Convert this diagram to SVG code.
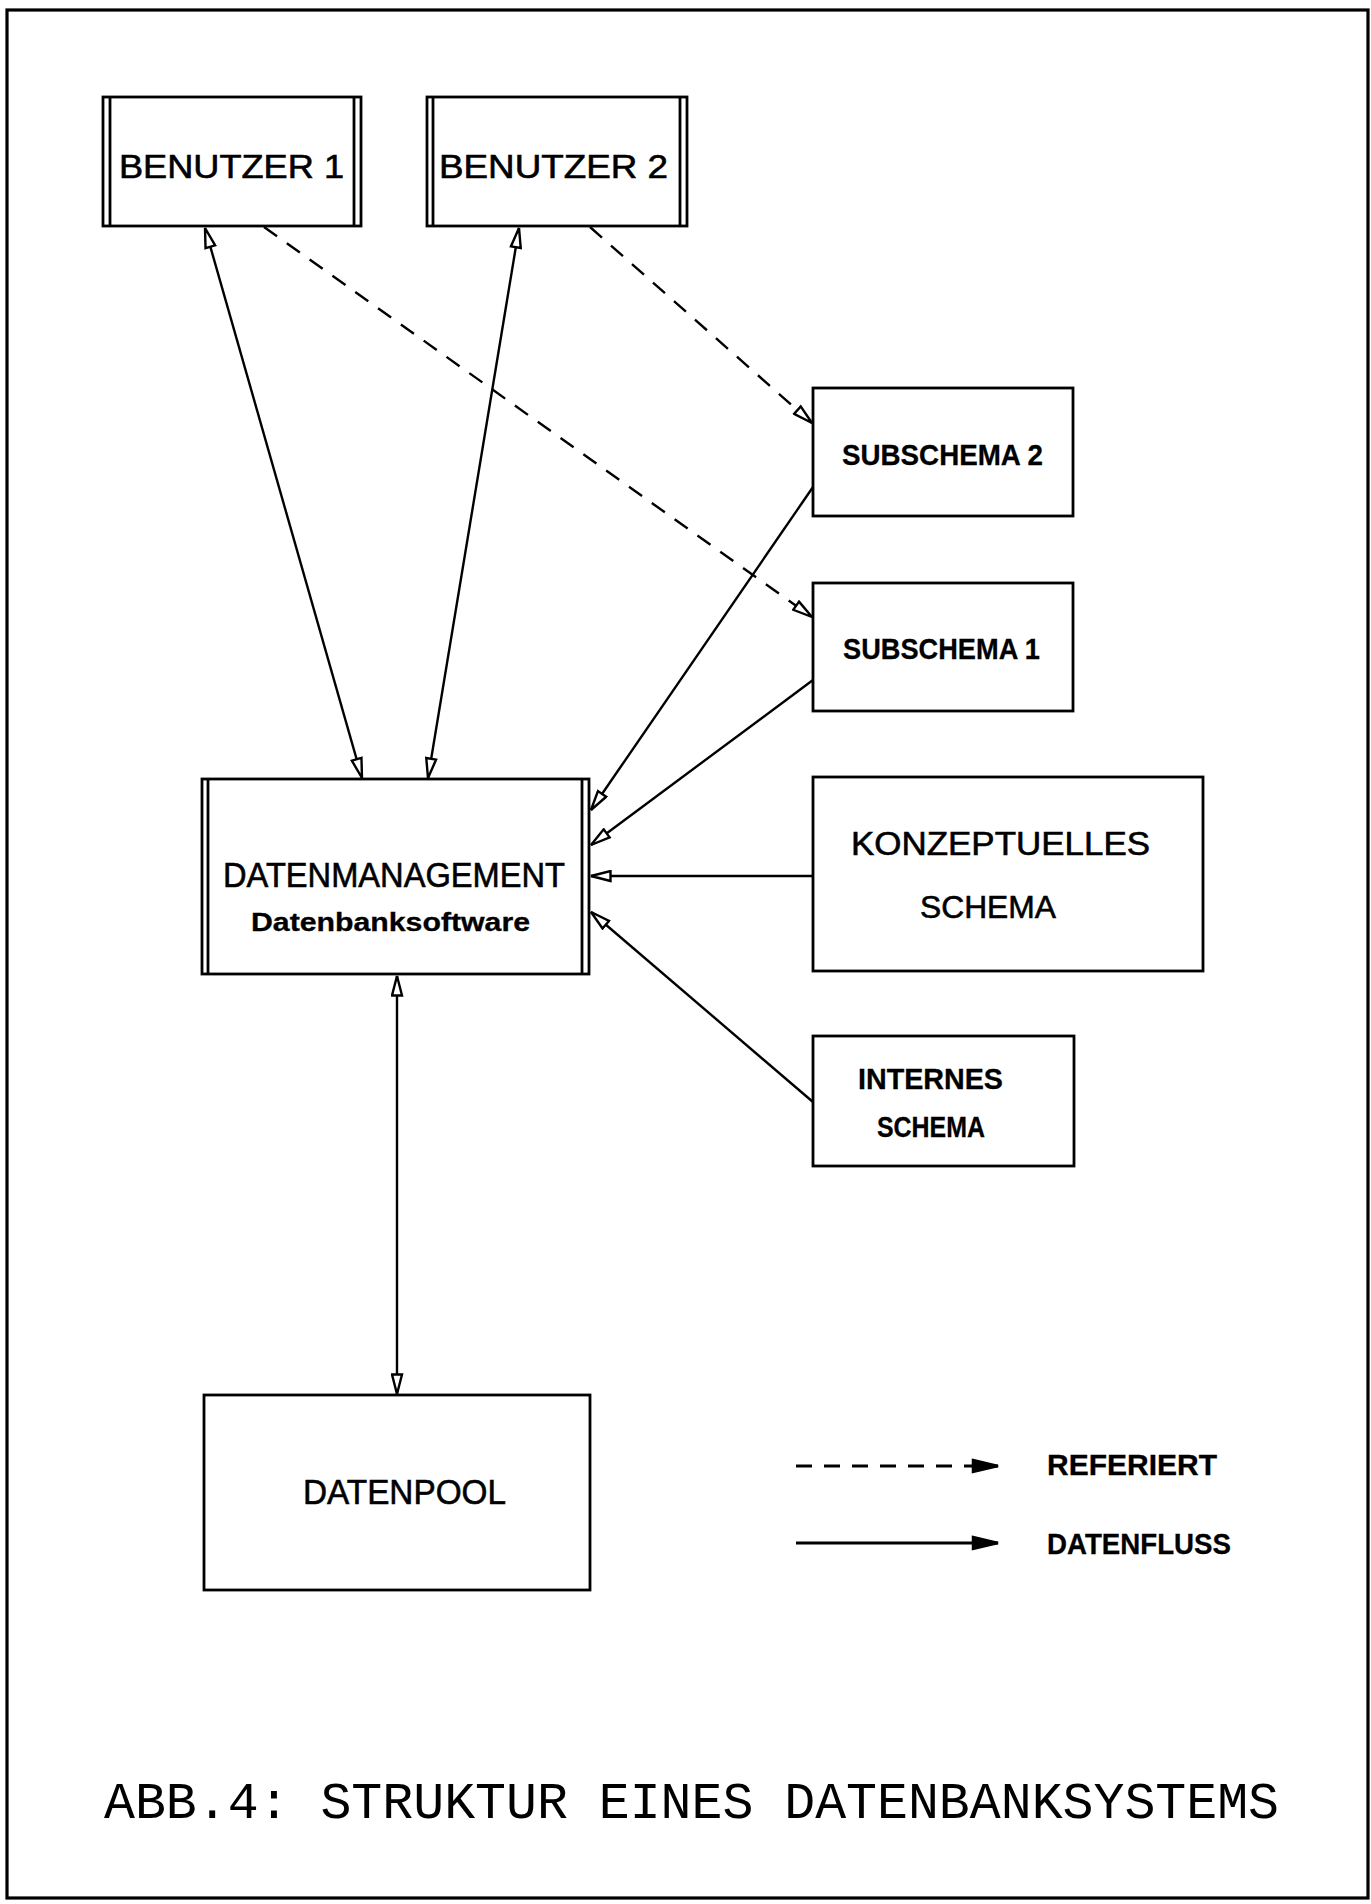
<svg xmlns="http://www.w3.org/2000/svg" width="1371" height="1904" viewBox="0 0 1371 1904">
  <defs>
    <style>
      .box { fill: #fff; stroke: #000; stroke-width: 2.8; }
      .rail { fill: none; stroke: #000; stroke-width: 2.8; }
      .frame { fill: none; stroke: #000; stroke-width: 3.2; }
      .flow { fill: none; stroke: #000; stroke-width: 2.4; marker-end: url(#head); }
      .both { fill: none; stroke: #000; stroke-width: 2.4; marker-start: url(#head); marker-end: url(#head); }
      .ref { fill: none; stroke: #000; stroke-width: 2.4; stroke-dasharray: 16 12; marker-end: url(#head); }
      .key { fill: none; stroke: #000; stroke-width: 2.8; marker-end: url(#keyhead); }
      .lbl { font-family: "Liberation Sans", Arial, sans-serif; fill: #000; stroke: #000; stroke-width: 0.6; }
      .b { font-weight: bold; stroke-width: 0.3; }
      .cap { font-family: "Liberation Mono", "Courier New", monospace; fill: #000; }
    </style>
    <marker id="head" viewBox="0 0 22 13" refX="21" refY="6.5" markerWidth="22" markerHeight="13" markerUnits="userSpaceOnUse" orient="auto-start-reverse">
      <path d="M1.5,1.5 L21,6.5 L1.5,11.5 Z" fill="#fff" stroke="#000" stroke-width="2.4"/>
    </marker>
    <marker id="keyhead" viewBox="0 0 28 16" refX="27" refY="8" markerWidth="28" markerHeight="16" markerUnits="userSpaceOnUse" orient="auto">
      <path d="M2,2 L27,8 L2,14 Z" fill="#000" stroke="#000" stroke-width="2.5"/>
    </marker>
  </defs>

  <!-- page frame -->
  <rect class="frame" x="7" y="10" width="1361" height="1888"/>

  <!-- connectors -->
  <g id="connectors">
    <line class="both" x1="205" y1="228" x2="362" y2="778"/>
    <line class="both" x1="519" y1="228" x2="428" y2="778"/>
    <line class="ref" x1="264" y1="227" x2="812" y2="617"/>
    <line class="ref" x1="590" y1="227" x2="812" y2="423"/>
    <line class="flow" x1="813" y1="487" x2="591" y2="810"/>
    <line class="flow" x1="813" y1="680" x2="591" y2="845"/>
    <line class="flow" x1="813" y1="876" x2="591" y2="876"/>
    <line class="flow" x1="813" y1="1102" x2="591" y2="912"/>
    <line class="both" x1="397" y1="976" x2="397" y2="1394"/>
  </g>

  <!-- users -->
  <g id="benutzer1">
    <rect class="box" x="103" y="97" width="258" height="129"/>
    <line class="rail" x1="110" y1="97" x2="110" y2="226"/>
    <line class="rail" x1="354" y1="97" x2="354" y2="226"/>
    <text class="lbl" x="119" y="178" font-size="33" textLength="225" lengthAdjust="spacingAndGlyphs">BENUTZER 1</text>
  </g>
  <g id="benutzer2">
    <rect class="box" x="427" y="97" width="260" height="129"/>
    <line class="rail" x1="433" y1="97" x2="433" y2="226"/>
    <line class="rail" x1="680" y1="97" x2="680" y2="226"/>
    <text class="lbl" x="439" y="178" font-size="33" textLength="229" lengthAdjust="spacingAndGlyphs">BENUTZER 2</text>
  </g>

  <!-- external schemas -->
  <g id="subschema2">
    <rect class="box" x="813" y="388" width="260" height="128"/>
    <text class="lbl b" x="842" y="465" font-size="30" textLength="201" lengthAdjust="spacingAndGlyphs">SUBSCHEMA 2</text>
  </g>
  <g id="subschema1">
    <rect class="box" x="813" y="583" width="260" height="128"/>
    <text class="lbl b" x="843" y="659" font-size="30" textLength="197" lengthAdjust="spacingAndGlyphs">SUBSCHEMA 1</text>
  </g>

  <!-- database management -->
  <g id="datenmanagement">
    <rect class="box" x="202" y="779" width="387" height="195"/>
    <line class="rail" x1="208" y1="779" x2="208" y2="974"/>
    <line class="rail" x1="582" y1="779" x2="582" y2="974"/>
    <text class="lbl" x="223" y="887" font-size="35" textLength="342" lengthAdjust="spacingAndGlyphs">DATENMANAGEMENT</text>
    <text class="lbl b" x="251" y="931" font-size="25" textLength="279" lengthAdjust="spacingAndGlyphs">Datenbanksoftware</text>
  </g>

  <!-- conceptual and internal schema -->
  <g id="konzeptuelles-schema">
    <rect class="box" x="813" y="777" width="390" height="194"/>
    <text class="lbl" x="851" y="855" font-size="33" textLength="299" lengthAdjust="spacingAndGlyphs">KONZEPTUELLES</text>
    <text class="lbl" x="920" y="918" font-size="32" textLength="136" lengthAdjust="spacingAndGlyphs">SCHEMA</text>
  </g>
  <g id="internes-schema">
    <rect class="box" x="813" y="1036" width="261" height="130"/>
    <text class="lbl b" x="858" y="1089" font-size="29" textLength="145" lengthAdjust="spacingAndGlyphs">INTERNES</text>
    <text class="lbl b" x="877" y="1137" font-size="29" textLength="108" lengthAdjust="spacingAndGlyphs">SCHEMA</text>
  </g>

  <!-- data pool -->
  <g id="datenpool">
    <rect class="box" x="204" y="1395" width="386" height="195"/>
    <text class="lbl" x="303" y="1504" font-size="35" textLength="203" lengthAdjust="spacingAndGlyphs" stroke-width="0.2">DATENPOOL</text>
  </g>

  <!-- legend -->
  <g id="legend">
    <line class="key" x1="796" y1="1466" x2="998" y2="1466" stroke-dasharray="16 12"/>
    <text class="lbl b" x="1047" y="1475" font-size="29" textLength="170" lengthAdjust="spacingAndGlyphs">REFERIERT</text>
    <line class="key" x1="796" y1="1543" x2="998" y2="1543"/>
    <text class="lbl b" x="1047" y="1554" font-size="29" textLength="184" lengthAdjust="spacingAndGlyphs">DATENFLUSS</text>
  </g>

  <!-- caption -->
  <text class="cap" x="104" y="1818" font-size="52" textLength="1175" lengthAdjust="spacingAndGlyphs">ABB.4: STRUKTUR EINES DATENBANKSYSTEMS</text>
</svg>
